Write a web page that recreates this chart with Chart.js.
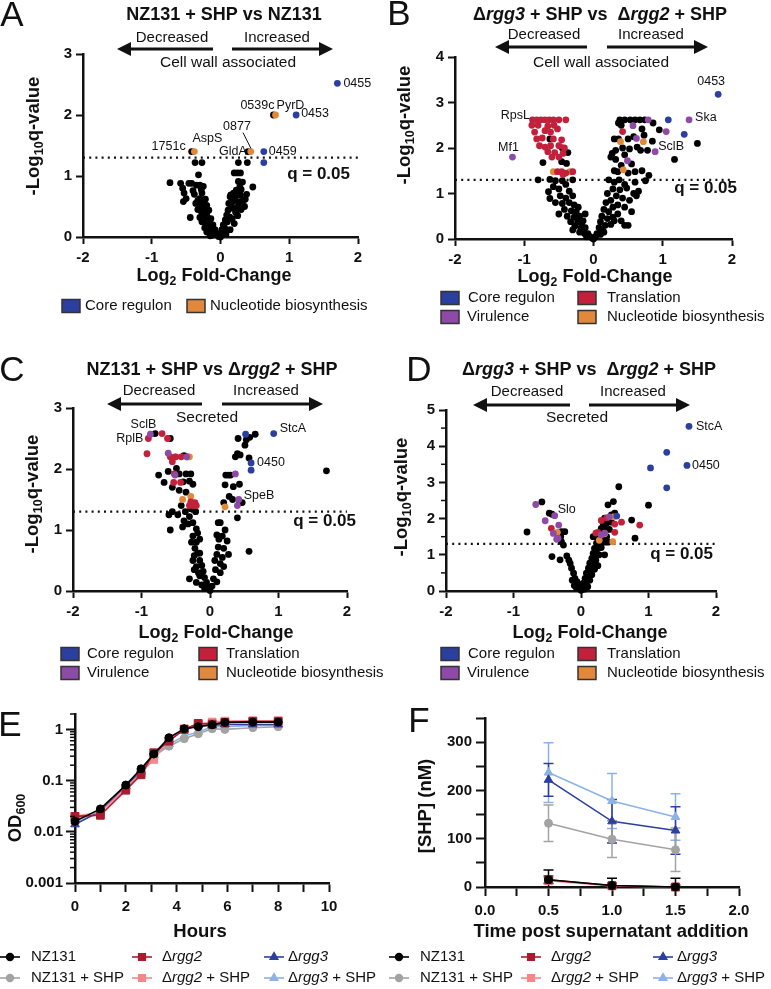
<!DOCTYPE html>
<html>
<head>
<meta charset="utf-8">
<script src="https://cdn.jsdelivr.net/npm/chart.js@4.4.1/dist/chart.umd.min.js"></script>
<style>
  html, body { margin: 0; padding: 0; background: #fff; }
  #page { position: relative; width: 771px; height: 989px; overflow: hidden; }
  .panel { position: absolute; }
</style>
</head>
<body>
<div id="page">
  <div class="panel" style="left:0;top:0;width:385px;height:330px"><canvas id="chartA"></canvas></div>
  <div class="panel" style="left:385px;top:0;width:386px;height:330px"><canvas id="chartB"></canvas></div>
  <div class="panel" style="left:0;top:330px;width:385px;height:360px"><canvas id="chartC"></canvas></div>
  <div class="panel" style="left:385px;top:330px;width:386px;height:360px"><canvas id="chartD"></canvas></div>
  <div class="panel" style="left:0;top:690px;width:385px;height:299px"><canvas id="chartE"></canvas></div>
  <div class="panel" style="left:385px;top:690px;width:386px;height:299px"><canvas id="chartF"></canvas></div>
</div>
<script>
// ---- data: volcano plots, [log2 fold-change, -log10 q] ----
// A: NZ131 + SHP vs NZ131 (cell wall associated)
const aCore = [[1.7,2.52],[1.1,2.0],[0.63,1.4],[0.63,1.22]];
const aNucleotide = [[0.8,2.0],[-0.38,1.4],[0.44,1.4]];
const aOther = [[0.77,2.0],[-0.42,1.4],[0.4,1.4],
  [-0.37,1.22],[-0.27,1.22],[0.26,1.22],[0.39,1.22],[0.2,1.05],[0.245,1.05],[0.29,1.05],[-0.32,1.02],
  [-0.735,0.89],[-0.58,0.88],[-0.42,0.88],[-0.35,0.85],[-0.3,0.85],[-0.25,0.83],[-0.55,0.8],[-0.53,0.72],[-0.5,0.63],[-0.54,0.58],[-0.44,0.32],
  [-0.27,0.72],[-0.3,0.63],[-0.25,0.55],[-0.23,0.47],[-0.2,0.39],[-0.18,0.31],[-0.15,0.22],[-0.13,0.16],[-0.1,0.09],[-0.07,0.04],[-0.03,0.01],[0,0],
  [-0.33,0.6],[-0.3,0.5],[-0.28,0.42],[-0.26,0.35],[-0.24,0.28],[-0.21,0.2],[-0.19,0.12],[-0.16,0.07],[-0.12,0.03],
  [-0.38,0.7],[-0.36,0.55],[-0.33,0.45],[-0.3,0.32],[-0.27,0.25],[-0.23,0.15],[-0.2,0.08],[-0.15,0.02],
  [-0.4,0.76],[-0.22,0.62],[-0.2,0.52],[-0.17,0.44],[-0.14,0.3],[-0.11,0.2],[-0.08,0.12],[-0.05,0.06],
  [0.15,0.69],[0.2,0.69],[0.25,0.69],[0.29,0.69],[0.47,0.82],[0.26,0.91],[0.28,0.82],[0.23,0.77],[0.19,0.72],[0.14,0.66],
  [0.21,0.61],[0.26,0.52],[0.16,0.5],[0.11,0.44],[0.09,0.36],[0.07,0.28],[0.04,0.2],[0.02,0.12],[0.01,0.03],
  [0.12,0.55],[0.18,0.47],[0.22,0.4],[0.3,0.45],[0.33,0.6],[0.35,0.5],[0.13,0.33],[0.1,0.25],[0.06,0.15],[0.17,0.3],
  [0.2,0.22],[0.25,0.35],[0.05,0.08],[0.08,0.05],[0.14,0.12],[0.3,0.78],[0.32,0.9],[0.18,0.58],[0.38,0.7],[0.36,0.62],
  [0.24,0.45],[0.28,0.58],[-0.46,0.88],[-0.28,0.78],[-0.22,0.3],[-0.17,0.18],[-0.12,0.08]];

// B: Δrgg3 + SHP vs Δrgg2 + SHP (cell wall associated)
const bCore = [[1.8,3.18],[1.08,2.62],[1.31,2.3]];
const bVirulence = [[1.38,2.62],[-1.17,1.8],[0.89,1.92],[1.05,2.36],[0.57,2.49],[0.79,2.62],[0.62,2.21],[0.49,1.72]];
const bTranslation = [[-0.89,2.5],[-0.88,2.62],[-0.82,2.62],[-0.76,2.62],[-0.7,2.62],[-0.64,2.62],[-0.58,2.62],[-0.5,2.62],[-0.4,2.62],
  [-0.8,2.5],[-0.66,2.48],[-0.57,2.5],[-0.85,2.35],[-0.7,2.38],[-0.62,2.35],[-0.52,2.42],[-0.82,2.2],[-0.74,2.22],[-0.58,2.2],
  [-0.46,2.18],[-0.78,2.05],[-0.7,2.02],[-0.62,2.05],[-0.5,2.05],[-0.42,2.0],[-0.66,1.92],[-0.56,1.9],[-0.44,1.88],[-0.6,1.8],
  [-0.5,1.8],[-0.52,1.48],[-0.46,1.48],[-0.4,1.45],[-0.3,1.48],[-0.44,1.42],[0.42,2.36]];
const bNucleotide = [[-0.58,1.48],[-0.34,1.48],[0.39,2.14],[0.72,2.14],[0.43,1.52]];
const bOther = [[-0.63,2.2],[-0.45,2.0],[-0.37,1.9],[-0.46,1.7],[-0.39,1.66],[-0.73,1.68],[-0.8,1.3],[-0.63,1.31],[-0.55,1.28],
  [-0.45,1.28],[-0.3,1.3],[-0.58,1.15],[-0.65,1.04],[-0.63,0.89],[-0.5,1.1],[-0.4,1.2],[-0.35,1.05],[-0.48,0.95],[-0.4,0.9],
  [-0.3,0.95],[-0.55,0.8],[-0.45,0.78],[-0.35,0.8],[-0.28,0.75],[-0.42,0.65],[-0.32,0.62],[-0.25,0.6],[-0.38,0.5],[-0.28,0.48],
  [-0.2,0.5],[-0.33,0.38],[-0.23,0.38],[-0.17,0.35],[-0.27,0.28],[-0.18,0.25],[-0.12,0.25],[-0.2,0.15],[-0.13,0.12],[-0.08,0.12],
  [-0.1,0.05],[-0.05,0.05],[-0.02,0.02],[0,0],[-0.5,0.55],[-0.3,0.2],[-0.15,0.4],[-0.22,0.7],[-0.12,0.55],
  [0.38,2.62],[0.45,2.62],[0.53,2.62],[0.6,2.62],[0.67,2.62],[0.74,2.62],[0.86,2.55],[0.4,2.5],[0.36,2.55],[0.7,2.42],
  [0.95,2.4],[0.3,2.2],[0.36,2.2],[0.5,2.2],[0.58,2.25],[0.73,2.28],[0.85,2.15],[0.63,2.02],[0.52,1.98],[0.42,2.0],
  [0.27,1.88],[0.32,1.95],[0.45,1.85],[0.68,1.95],[0.78,1.95],[1.17,1.75],[1.5,2.1],[0.32,1.75],[0.25,1.8],[0.55,1.65],
  [0.4,1.62],[0.7,1.5],[0.3,1.5],[0.35,1.48],[0.5,1.45],[0.6,1.48],[0.8,1.4],[0.75,1.28],[0.6,1.25],[0.22,1.3],
  [0.3,1.25],[0.37,1.3],[0.45,1.2],[0.28,1.1],[0.38,1.08],[0.48,1.12],[0.58,1.0],[0.65,1.05],[0.2,1.0],[0.33,0.95],
  [0.42,0.9],[0.52,0.85],[0.25,0.85],[0.35,0.75],[0.18,0.8],[0.28,0.7],[0.45,0.7],[0.15,0.65],[0.22,0.6],[0.35,0.55],
  [0.12,0.5],[0.2,0.45],[0.28,0.48],[0.1,0.38],[0.17,0.3],[0.25,0.32],[0.4,0.4],[0.08,0.25],[0.13,0.2],[0.05,0.12],
  [0.1,0.1],[0.03,0.05],[0.45,0.3],[0.15,0.15],[0.55,0.6],[0.3,0.4],[0.62,0.95],[0.5,0.3]];

// C: NZ131 + SHP vs Δrgg2 + SHP (secreted)
const cCore = [[0.93,2.58],[0.52,2.57],[0.6,2.1],[0.6,1.98]];
const cVirulence = [[-0.87,2.57],[0.42,1.5],[-0.61,2.26],[-0.34,2.2],[-0.51,1.9],[0.37,1.92],[0.4,1.4]];
const cTranslation = [[-0.9,2.5],[-0.92,2.25],[-0.7,2.58],[-0.62,2.5],[-0.58,2.2],[-0.5,2.2],[-0.55,2.12],[-0.42,2.2],
  [-0.52,1.92],[-0.53,1.78],[-0.43,1.78],[-0.3,1.4],[-0.25,1.4],[-0.2,1.4],[-0.28,1.46],[-0.22,1.45]];
const cNucleotide = [[-0.51,2.2],[-0.3,2.2],[-0.4,1.5],[-0.28,1.55],[0.22,1.38]];
const cOther = [[-0.8,2.58],[-0.58,2.5],[-0.38,2.22],[-0.33,2.2],[-0.75,1.9],[-0.67,1.78],[-0.61,1.96],[-0.49,2.01],
  [-0.39,1.79],[-0.45,1.92],[-0.35,1.92],[-0.28,1.92],[-0.3,1.8],[-0.25,1.75],[-0.55,1.7],[-0.45,1.65],[-0.35,1.62],
  [-0.42,1.4],[-0.55,1.3],[-0.6,1.25],[-0.47,1.25],[-0.36,1.3],[-0.3,1.22],[-0.21,1.3],[-0.25,1.12],[-0.58,1.0],
  [-0.4,1.05],[-0.2,1.02],[-0.25,0.9],[-0.2,0.8],[-0.15,0.85],[-0.22,0.7],[-0.18,0.62],[-0.25,0.5],[-0.15,0.5],
  [-0.2,0.4],[-0.12,0.42],[-0.1,0.32],[-0.15,0.25],[-0.08,0.22],[-0.05,0.14],[-0.02,0.06],[0,0.01],[-0.3,0.2],
  [-0.2,0.14],[-0.12,0.1],[-0.08,0.05],[-0.17,0.3],[-0.23,0.58],[-0.27,0.8],[-0.32,1.1],[-0.38,1.15],[-0.28,1.35],
  [-0.23,0.35],[-0.15,0.62],[-0.18,0.95],
  [0.41,2.5],[0.53,2.48],[0.58,2.52],[0.66,2.57],[0.51,2.39],[0.57,2.18],[0.37,2.2],[0.44,2.23],[0.4,2.25],[0.3,1.9],
  [0.27,1.9],[0.23,1.9],[0.22,1.74],[0.34,1.71],[0.43,1.75],[0.28,1.55],[0.33,1.5],[0.43,1.45],[0.47,1.45],[0.4,1.2],
  [0.2,1.45],[1.7,1.97],[0.57,0.65],[0.12,1.12],[0.15,1.12],[0.22,1.0],[0.1,0.92],[0.18,0.9],[0.25,0.82],[0.12,0.72],
  [0.2,0.7],[0.27,0.6],[0.1,0.6],[0.15,0.45],[0.2,0.4],[0.08,0.35],[0.05,0.2],[0.1,0.15],[0.03,0.08],[0.15,0.3],
  [0.18,0.55],[0.13,0.85],[0.07,0.5]];

// D: Δrgg3 + SHP vs Δrgg2 + SHP (secreted)
const dCore = [[1.6,4.55],[1.27,3.83],[1.03,3.4],[1.57,3.47],[1.27,2.85],[0.53,2.07]];
const dVirulence = [[-0.39,2.08],[-0.67,2.39],[-0.53,1.94],[-0.33,1.82],[-0.41,1.59],[-0.34,1.46],[-0.36,1.43],
  [0.42,2.05],[0.35,1.6],[0.3,1.55]];
const dTranslation = [[-0.44,1.73],[0.87,1.82],[0.6,1.9],[0.5,1.85],[0.5,1.62],[0.25,1.62],[0.3,1.95],[0.38,2.02],[0.22,1.6]];
const dNucleotide = [[-0.35,1.62],[0.48,2.05],[0.47,1.36],[0.27,1.4],[0.35,1.58]];
const dOther = [[-0.8,1.63],[-0.58,2.46],[-0.47,2.15],[-0.43,2.12],[-0.29,1.64],[-0.24,1.64],[-0.29,1.36],[-0.26,1.27],
  [-0.43,0.95],[-0.31,0.86],[-0.21,0.97],[-0.16,0.76],[-0.14,0.63],[-0.11,0.49],[-0.09,0.35],[-0.06,0.26],[-0.04,0.17],
  [-0.02,0.07],[0,0.02],[-0.1,0.15],[-0.13,0.3],[-0.07,0.1],[-0.18,0.85],[-0.3,1.5],
  [0.03,0.21],[0.06,0.35],[0.08,0.49],[0.11,0.63],[0.13,0.77],[0.16,0.9],[0.18,1.04],[0.2,1.18],[0.23,1.32],[0.25,1.46],
  [0.28,1.59],[0.3,1.73],[0.33,1.87],[0.35,2.01],[0.08,0.21],[0.11,0.35],[0.13,0.49],[0.16,0.63],[0.18,0.77],[0.21,0.9],
  [0.23,1.04],[0.25,1.18],[0.28,1.32],[0.3,1.46],[0.33,1.59],[0.35,1.73],[0.38,1.87],[0.4,2.01],[0.13,0.3],[0.16,0.45],
  [0.2,0.6],[0.22,0.85],[0.27,1.0],[0.3,1.2],[0.35,1.35],[0.38,1.5],[0.42,1.7],[0.45,1.9],[0.02,0.1],[0.05,0.05],
  [0.1,0.12],[0.48,2.47],[0.4,2.38],[0.56,2.88],[0.75,1.96],[0.8,1.46],[1.0,2.37],[0.45,2.1],[0.5,2.15],[0.4,1.35],
  [0.25,0.7],[0.35,1.0],[0.18,1.5]];

const qCutoff = 0.05;

// ---- data: E growth curves (OD600) ----
const hours = [0, 1, 2, 2.6, 3.1, 3.7, 4.3, 4.85, 5.4, 5.9, 7, 8];
const odNZ131    = [0.016, 0.028, 0.082, 0.17, 0.33, 0.69, 1.03, 1.13, 1.23, 1.37, 1.39, 1.39];
const odRgg2     = [0.02, 0.021, 0.065, 0.13, 0.35, 0.59, 1.0, 1.31, 1.27, 1.37, 1.43, 1.43];
const odRgg3     = [0.014, 0.025, 0.078, 0.15, 0.31, 0.64, 1.0, 1.2, 1.2, 1.25, 1.25, 1.25];
const odNZ131SHP = [0.017, 0.026, 0.078, 0.15, 0.3, 0.47, 0.66, 0.82, 1.03, 1.0, 1.08, 1.13];
const odRgg2SHP  = [0.02, 0.024, 0.072, 0.14, 0.26, 0.64, 1.03, 1.25, 1.39, 1.45, 1.48, 1.48];
const odRgg3SHP  = [0.016, 0.025, 0.078, 0.16, 0.31, 0.51, 0.74, 0.89, 1.13, 1.13, 1.2, 1.2];

// ---- data: F SHP concentration (nM), mean and error ----
const timePost = [0.5, 1.0, 1.5];
const shpNZ131    = [15, 3, 0];      const errNZ131    = [20, 15, 18];
const shpRgg2     = [15, 3, 0];      const errRgg2     = [8, 5, 4];
const shpRgg3     = [222, 136, 117]; const errRgg3     = [34, 45, 49];
const shpNZ131SHP = [132, 99, 77];   const errNZ131SHP = [38, 38, 45];
const shpRgg2SHP  = [13, 2, 0];      const errRgg2SHP  = [6, 4, 3];
const shpRgg3SHP  = [237, 178, 145]; const errRgg3SHP  = [62, 57, 48];

// ---- styles ----
const FONT = '"Liberation Sans", Arial, Helvetica, sans-serif';
const INK = '#111111';
const catColors = { other: '#000000', core: '#2b3f9e', virulence: '#8d4aa6', translation: '#c3203c', nucleotide: '#e2883a' };
const catNames = { core: 'Core regulon', virulence: 'Virulence', translation: 'Translation', nucleotide: 'Nucleotide biosynthesis' };
const strainStyle = {
  nz131:    { color: '#000000', shape: 'circle', r: 4 },
  rgg2:     { color: '#a81c2e', shape: 'rect', r: 5.5 },
  rgg3:     { color: '#2d3f9f', shape: 'triangle', r: 5 },
  nz131shp: { color: '#a3a3a3', shape: 'circle', r: 4 },
  rgg2shp:  { color: '#f4878a', shape: 'rect', r: 5.5 },
  rgg3shp:  { color: '#8db3e4', shape: 'triangle', r: 5 }
};

function drawRich(ctx, o) {
  const size = o.s || 15;
  const weight = o.w || 'normal';
  const segs = (Array.isArray(o.p) ? o.p : [o.p]).map(s => typeof s === 'string' ? { t: s } : s);
  const fontOf = s => (s.i ? 'italic ' : '') + weight + ' ' + (s.sub ? size * 0.68 : size) + 'px ' + FONT;
  let total = 0;
  const widths = segs.map(s => { ctx.font = fontOf(s); const w = ctx.measureText(s.t).width; total += w; return w; });
  ctx.save();
  ctx.translate(o.x, o.y);
  if (o.r) ctx.rotate(o.r * Math.PI / 180);
  ctx.fillStyle = o.c || INK;
  ctx.textBaseline = 'middle';
  ctx.textAlign = 'left';
  let x = o.a === 'left' ? 0 : o.a === 'right' ? -total : -total / 2;
  segs.forEach((s, i) => {
    ctx.font = fontOf(s);
    ctx.fillText(s.t, x, s.sub ? size * 0.32 : 0);
    x += widths[i];
  });
  ctx.restore();
}

function drawArrow(ctx, a) {
  const dir = a.x2 > a.x1 ? 1 : -1;
  const head = 14;
  ctx.save();
  ctx.strokeStyle = INK;
  ctx.fillStyle = INK;
  ctx.lineWidth = 3.2;
  ctx.beginPath();
  ctx.moveTo(a.x1, a.y);
  ctx.lineTo(a.x2 - dir * head, a.y);
  ctx.stroke();
  ctx.beginPath();
  ctx.moveTo(a.x2, a.y);
  ctx.lineTo(a.x2 - dir * head, a.y - 7);
  ctx.lineTo(a.x2 - dir * head, a.y + 7);
  ctx.closePath();
  ctx.fill();
  ctx.restore();
}

function drawSwatch(ctx, s) {
  ctx.save();
  ctx.fillStyle = catColors[s.cat];
  ctx.strokeStyle = '#333';
  ctx.lineWidth = 1.5;
  ctx.fillRect(s.x, s.y - 6.5, 18, 13);
  ctx.strokeRect(s.x, s.y - 6.5, 18, 13);
  ctx.restore();
  drawRich(ctx, { x: s.tx, y: s.y, s: 15, a: 'left', p: catNames[s.cat] });
}

function drawLineKey(ctx, k) {
  const st = strainStyle[k.key];
  ctx.save();
  ctx.strokeStyle = st.color;
  ctx.fillStyle = st.color;
  ctx.lineWidth = 1.6;
  ctx.beginPath();
  ctx.moveTo(k.x - 10, k.y);
  ctx.lineTo(k.x + 10, k.y);
  ctx.stroke();
  Chart.helpers.drawPoint(ctx, { pointStyle: st.shape, radius: st.r * 0.85, borderWidth: 1, rotation: 0 }, k.x, k.y);
  ctx.restore();
  drawRich(ctx, { x: k.tx, y: k.y, s: 15, a: 'left', p: k.p });
}

function drawPointLabels(chart, labels) {
  const ctx = chart.ctx;
  labels.forEach(([cat, idx, text, dx, dy, align, leader]) => {
    const dsIndex = chart.data.datasets.findIndex(d => d.cat === cat);
    const el = chart.getDatasetMeta(dsIndex).data[idx];
    if (!el) return;
    if (leader) {
      ctx.save();
      ctx.strokeStyle = INK;
      ctx.lineWidth = 1;
      ctx.beginPath();
      ctx.moveTo(el.x + leader[0], el.y + leader[1]);
      ctx.lineTo(el.x + leader[2], el.y + leader[3]);
      ctx.stroke();
      ctx.restore();
    }
    drawRich(ctx, { x: el.x + dx, y: el.y + dy, s: 12.5, a: align, p: text });
  });
}

function drawErrorBars(chart) {
  const ctx = chart.ctx;
  const ys = chart.scales.y;
  const area = chart.chartArea;
  chart.data.datasets.forEach((ds, i) => {
    if (!ds.err) return;
    const meta = chart.getDatasetMeta(i);
    ctx.save();
    ctx.beginPath();
    ctx.rect(area.left, area.top - 20, area.right - area.left, area.bottom - area.top + 20);
    ctx.clip();
    ctx.strokeStyle = ds.borderColor;
    ctx.lineWidth = 1.5;
    meta.data.forEach((el, j) => {
      const v = ds.data[j].y;
      const top = ys.getPixelForValue(v + ds.err[j]);
      const bot = ys.getPixelForValue(v - ds.err[j]);
      ctx.beginPath();
      ctx.moveTo(el.x, top); ctx.lineTo(el.x, bot);
      ctx.moveTo(el.x - 5, top); ctx.lineTo(el.x + 5, top);
      ctx.moveTo(el.x - 5, bot); ctx.lineTo(el.x + 5, bot);
      ctx.stroke();
    });
    ctx.restore();
  });
}

// short minor ticks, and optionally the y tick labels drawn by hand
function drawYTicks(chart, deco) {
  const s = chart.scales.y;
  const ctx = chart.ctx;
  ctx.save();
  ctx.strokeStyle = INK;
  ctx.lineWidth = 1.5;
  s.ticks.forEach(t => {
    const y = s.getPixelForValue(t.value);
    if (t.label === '' && deco.minorY) {
      ctx.beginPath();
      ctx.moveTo(s.right - 5, y);
      ctx.lineTo(s.right, y);
      ctx.stroke();
    }
    if (t.label !== '' && deco.ownYLabels) {
      drawRich(ctx, { x: s.right - 12, y, s: 15, w: 'bold', a: 'right', p: String(t.label) });
    }
  });
  ctx.restore();
}

function decorPlugin(box, deco) {
  return {
    id: 'decor',
    beforeDatasetsDraw(chart) { drawErrorBars(chart); },
    afterDraw(chart) {
      const ctx = chart.ctx;
      ctx.save();
      ctx.translate(-box.x, -box.y);
      (deco.arrows || []).forEach(a => drawArrow(ctx, a));
      (deco.texts || []).forEach(t => drawRich(ctx, t));
      (deco.swatches || []).forEach(s => drawSwatch(ctx, s));
      (deco.keys || []).forEach(k => drawLineKey(ctx, k));
      ctx.restore();
      drawYTicks(chart, deco);
      drawPointLabels(chart, deco.pointLabels || []);
    }
  };
}

function axis(o) {
  return {
    type: o.type || 'linear',
    min: o.min, max: o.max,
    ticks: {
      stepSize: o.step, autoSkip: false, maxRotation: 0, padding: o.pad,
      color: o.hideLabels ? 'rgba(0,0,0,0)' : INK,
      font: { family: FONT, size: 15, weight: 'bold' },
      callback: o.cb || (v => String(v))
    },
    grid: {
      drawOnChartArea: false, tickLength: o.tl, tickWidth: 2,
      tickColor: c => (c.tick && c.tick.label === '' && o.minorShort) ? 'rgba(0,0,0,0)' : INK
    },
    border: { color: INK, width: 2.5 },
    afterBuildTicks: o.abt,
    afterFit: o.horizontal
      ? s => { s.height = 30; s.paddingLeft = 0; s.paddingRight = 0; }
      : s => { s.width = 40; s.paddingTop = 0; s.paddingBottom = 0; }
  };
}

function layoutPadding(box, area) {
  return {
    left: area.l - box.x - 40,
    top: area.t - box.y,
    right: box.x + box.w - area.r,
    bottom: box.y + box.h - area.b - 30
  };
}

function volcanoChart(id, box, area, yMax, yStep, sets, deco) {
  const datasets = [];
  ['core', 'virulence', 'translation', 'nucleotide', 'other'].forEach(cat => {
    if (!sets[cat]) return;
    datasets.push({
      cat,
      data: sets[cat].map(([x, y]) => ({ x, y })),
      pointRadius: 3.4,
      pointBackgroundColor: catColors[cat],
      pointBorderColor: catColors[cat],
      pointBorderWidth: 0,
      order: cat === 'other' ? 2 : 1,
      clip: false
    });
  });
  const qLine = -Math.log10(qCutoff);
  datasets.push({
    type: 'line',
    data: [{ x: -2, y: qLine }, { x: 2, y: qLine }],
    borderColor: INK, borderWidth: 2.2, borderDash: [2, 4.2],
    pointRadius: 0, order: 3, clip: false
  });
  new Chart(document.getElementById(id), {
    type: 'scatter',
    data: { datasets },
    options: {
      responsive: true, maintainAspectRatio: false, animation: false, events: [],
      layout: { padding: layoutPadding(box, area) },
      plugins: { legend: { display: false }, tooltip: { enabled: false } },
      scales: {
        x: axis({ min: -2, max: 2, step: 1, tl: 7, pad: 5, horizontal: true }),
        y: axis({ min: 0, max: yMax, step: yStep, tl: 7, pad: 4, minorShort: true,
                  cb: v => Number.isInteger(v) ? String(v) : '' })
      }
    },
    plugins: [decorPlugin(box, Object.assign({ minorY: yStep < 1 }, deco))]
  });
}

function seriesChart(id, box, area, xs, series, xAxis, yAxis, deco) {
  const datasets = series.map(([key, vals, errs], i) => {
    const st = strainStyle[key];
    return {
      data: xs.map((x, j) => ({ x, y: vals[j] })),
      err: errs,
      borderColor: st.color, backgroundColor: st.color,
      pointBackgroundColor: st.color, pointBorderColor: st.color,
      pointStyle: st.shape, pointRadius: st.r, pointBorderWidth: 1,
      borderWidth: 1.6, tension: 0, order: series.length - i, clip: false
    };
  });
  new Chart(document.getElementById(id), {
    type: 'line',
    data: { datasets },
    options: {
      responsive: true, maintainAspectRatio: false, animation: false, events: [],
      layout: { padding: layoutPadding(box, area) },
      plugins: { legend: { display: false }, tooltip: { enabled: false } },
      scales: { x: xAxis, y: yAxis }
    },
    plugins: [decorPlugin(box, deco)]
  });
}

// ---- panel placement (page pixels) ----
const boxA = { x: 0, y: 0, w: 385, h: 330 },     areaA = { l: 83, r: 358, t: 54, b: 237 };
const boxB = { x: 385, y: 0, w: 386, h: 330 },   areaB = { l: 455, r: 732, t: 57, b: 239 };
const boxC = { x: 0, y: 330, w: 385, h: 360 },   areaC = { l: 73, r: 347, t: 408, b: 591 };
const boxD = { x: 385, y: 330, w: 386, h: 360 }, areaD = { l: 446, r: 716, t: 410, b: 591 };
const boxE = { x: 0, y: 690, w: 385, h: 299 },   areaE = { l: 75, r: 329, t: 714, b: 883 };
const boxF = { x: 385, y: 690, w: 386, h: 299 }, areaF = { l: 485, r: 739, t: 718, b: 887 };

const yTitle = (x, y) => ({ x, y, s: 18.5, w: 'bold', r: -90, p: ['-Log', { t: '10', sub: 1 }, 'q-value'] });
const xTitle = (x, y) => ({ x, y, s: 18, w: 'bold', p: ['Log', { t: '2', sub: 1 }, ' Fold-Change'] });
const qText = (x, y) => ({ x, y, s: 17, w: 'bold', a: 'right', p: 'q = 0.05' });
const rggTitle = ['Δ', { t: 'rgg3', i: 1 }, ' + SHP vs  Δ', { t: 'rgg2', i: 1 }, ' + SHP'];

volcanoChart('chartA', boxA, areaA, 3, 1,
  { core: aCore, nucleotide: aNucleotide, other: aOther },
  {
    texts: [
      { x: 12, y: 16, s: 35, p: 'A' },
      { x: 224, y: 15, s: 18, w: 'bold', p: 'NZ131 + SHP vs NZ131' },
      { x: 172, y: 38, s: 15, p: 'Decreased' },
      { x: 277, y: 38, s: 15, p: 'Increased' },
      { x: 228, y: 63, s: 15.5, p: 'Cell wall associated' },
      qText(350, 174), yTitle(34, 136), xTitle(214, 276)
    ],
    arrows: [{ x1: 213, x2: 117, y: 49 }, { x1: 232, x2: 333, y: 49 }],
    swatches: [{ x: 62, y: 306, tx: 85, cat: 'core' }, { x: 187, y: 306, tx: 210, cat: 'nucleotide' }],
    pointLabels: [
      ['core', 0, '0455', 6, 0, 'left'],
      ['core', 1, '0453', 5, -1, 'left'],
      ['core', 2, '0459', 5, 0, 'left'],
      ['other', 0, '0539c', -16, -9, 'center'],
      ['nucleotide', 0, 'PyrD', 15, -9, 'center'],
      ['nucleotide', 1, 'AspS', 13, -13, 'center'],
      ['nucleotide', 2, 'GldA', -4, 0, 'right'],
      ['other', 1, '1751c', -6, -5, 'right'],
      ['other', 2, '0877', -11, -25, 'center', [-5, -19, 3, -3]]
    ]
  });

volcanoChart('chartB', boxB, areaB, 4, 1,
  { core: bCore, virulence: bVirulence, translation: bTranslation, nucleotide: bNucleotide, other: bOther },
  {
    texts: [
      { x: 399, y: 15, s: 35, p: 'B' },
      { x: 600, y: 15, s: 18, w: 'bold', p: rggTitle },
      { x: 544, y: 35, s: 15, p: 'Decreased' },
      { x: 651, y: 35, s: 15, p: 'Increased' },
      { x: 601, y: 63, s: 15.5, p: 'Cell wall associated' },
      qText(737, 188), yTitle(405, 125), xTitle(595, 277)
    ],
    arrows: [{ x1: 587, x2: 495, y: 47 }, { x1: 607, x2: 708, y: 47 }],
    swatches: [
      { x: 441, y: 298, tx: 468, cat: 'core' }, { x: 578, y: 298, tx: 607, cat: 'translation' },
      { x: 441, y: 317, tx: 467, cat: 'virulence' }, { x: 578, y: 317, tx: 607, cat: 'nucleotide' }
    ],
    pointLabels: [
      ['core', 0, '0453', -7, -13, 'center'],
      ['virulence', 0, 'Ska', 6, -2, 'left'],
      ['virulence', 1, 'Mf1', -4, -10, 'center'],
      ['virulence', 2, 'SclB', 16, -5, 'center'],
      ['translation', 0, 'RpsL', -2, -10, 'right']
    ]
  });

volcanoChart('chartC', boxC, areaC, 3, 1,
  { core: cCore, virulence: cVirulence, translation: cTranslation, nucleotide: cNucleotide, other: cOther },
  {
    texts: [
      { x: 12, y: 371, s: 35, p: 'C' },
      { x: 212, y: 370, s: 18, w: 'bold', p: ['NZ131 + SHP vs Δ', { t: 'rgg2', i: 1 }, ' + SHP'] },
      { x: 159, y: 391, s: 15, p: 'Decreased' },
      { x: 266, y: 391, s: 15, p: 'Increased' },
      { x: 207, y: 418, s: 15.5, p: 'Secreted' },
      qText(356, 521), yTitle(33, 494), xTitle(216, 633)
    ],
    arrows: [{ x1: 202, x2: 107, y: 404 }, { x1: 222, x2: 323, y: 404 }],
    swatches: [
      { x: 61, y: 654, tx: 87, cat: 'core' }, { x: 199, y: 654, tx: 226, cat: 'translation' },
      { x: 61, y: 673, tx: 87, cat: 'virulence' }, { x: 199, y: 673, tx: 226, cat: 'nucleotide' }
    ],
    pointLabels: [
      ['virulence', 0, 'SclB', -7, -10, 'center'],
      ['translation', 0, 'RplB', -5, 0, 'right'],
      ['core', 0, 'StcA', 6, -5, 'left'],
      ['core', 2, '0450', 6, 0, 'left'],
      ['virulence', 1, 'SpeB', 5, -4, 'left']
    ]
  });

volcanoChart('chartD', boxD, areaD, 5, 0.5,
  { core: dCore, virulence: dVirulence, translation: dTranslation, nucleotide: dNucleotide, other: dOther },
  {
    texts: [
      { x: 419, y: 371, s: 35, p: 'D' },
      { x: 589, y: 370, s: 18, w: 'bold', p: rggTitle },
      { x: 527, y: 392, s: 15, p: 'Decreased' },
      { x: 633, y: 392, s: 15, p: 'Increased' },
      { x: 577, y: 418, s: 15.5, p: 'Secreted' },
      qText(713, 554), yTitle(402, 497), xTitle(590, 633)
    ],
    arrows: [{ x1: 570, x2: 473, y: 405 }, { x1: 589, x2: 690, y: 405 }],
    swatches: [
      { x: 441, y: 654, tx: 468, cat: 'core' }, { x: 578, y: 654, tx: 607, cat: 'translation' },
      { x: 441, y: 673, tx: 467, cat: 'virulence' }, { x: 578, y: 673, tx: 607, cat: 'nucleotide' }
    ],
    pointLabels: [
      ['core', 0, 'StcA', 7, 0, 'left'],
      ['core', 3, '0450', 5, 0, 'left'],
      ['virulence', 0, 'Slo', 12, -6, 'center']
    ]
  });

// shared legend for E and F
function strainKeys(shift) {
  const rows = [957, 978];
  return [
    { x: 10 + shift, tx: 31 + shift, y: rows[0], key: 'nz131', p: 'NZ131' },
    { x: 142 + shift, tx: 162 + shift, y: rows[0], key: 'rgg2', p: ['Δ', { t: 'rgg2', i: 1 }] },
    { x: 274 + shift, tx: 288 + shift, y: rows[0], key: 'rgg3', p: ['Δ', { t: 'rgg3', i: 1 }] },
    { x: 10 + shift, tx: 31 + shift, y: rows[1], key: 'nz131shp', p: 'NZ131 + SHP' },
    { x: 142 + shift, tx: 162 + shift, y: rows[1], key: 'rgg2shp', p: ['Δ', { t: 'rgg2', i: 1 }, ' + SHP'] },
    { x: 274 + shift, tx: 288 + shift, y: rows[1], key: 'rgg3shp', p: ['Δ', { t: 'rgg3', i: 1 }, ' + SHP'] }
  ];
}

const decadeLabels = { '0': '1', '-1': '0.1', '-2': '0.01', '-3': '0.001' };

seriesChart('chartE', boxE, areaE, hours,
  [['rgg3shp', odRgg3SHP], ['nz131shp', odNZ131SHP], ['rgg3', odRgg3], ['rgg2shp', odRgg2SHP], ['rgg2', odRgg2], ['nz131', odNZ131]],
  axis({ min: 0, max: 10, step: 1, tl: 9, pad: 6, horizontal: true, cb: v => v % 2 === 0 ? String(v) : '' }),
  axis({
    type: 'logarithmic', min: 0.001, max: 2, tl: 9, pad: 3, minorShort: true, hideLabels: true,
    abt: s => {
      s.ticks = s.ticks.filter(t => {
        const m = t.value / Math.pow(10, Math.floor(Math.log10(t.value) + 1e-9));
        return Math.abs(m - Math.round(m)) < 1e-6;
      });
    },
    cb: v => {
      const l = Math.log10(v);
      return Math.abs(l - Math.round(l)) < 1e-6 ? (decadeLabels[String(Math.round(l))] || '') : '';
    }
  }),
  {
    minorY: true,
    ownYLabels: true,
    texts: [
      { x: 10, y: 726, s: 35, p: 'E' },
      { x: 16, y: 818, s: 18.5, w: 'bold', r: -90, p: ['OD', { t: '600', sub: 1 }] },
      { x: 200, y: 932, s: 18.5, w: 'bold', p: 'Hours' }
    ],
    keys: strainKeys(0)
  });

seriesChart('chartF', boxF, areaF, timePost,
  [['rgg3shp', shpRgg3SHP, errRgg3SHP], ['rgg3', shpRgg3, errRgg3], ['nz131shp', shpNZ131SHP, errNZ131SHP],
   ['rgg2shp', shpRgg2SHP, errRgg2SHP], ['rgg2', shpRgg2, errRgg2], ['nz131', shpNZ131, errNZ131]],
  axis({ min: 0, max: 2, step: 0.25, tl: 9, pad: 6, horizontal: true,
         cb: v => Math.abs(v * 2 - Math.round(v * 2)) < 1e-9 ? v.toFixed(1) : '' }),
  axis({ min: 0, max: 350, step: 50, tl: 9, pad: 4, cb: v => v % 100 === 0 ? String(v) : '' }),
  {
    texts: [
      { x: 419, y: 722, s: 35, p: 'F' },
      { x: 426, y: 806, s: 18.5, w: 'bold', r: -90, p: '[SHP] (nM)' },
      { x: 611, y: 932, s: 18.5, w: 'bold', p: 'Time post supernatant addition' }
    ],
    keys: strainKeys(389)
  });
</script>
</body>
</html>
